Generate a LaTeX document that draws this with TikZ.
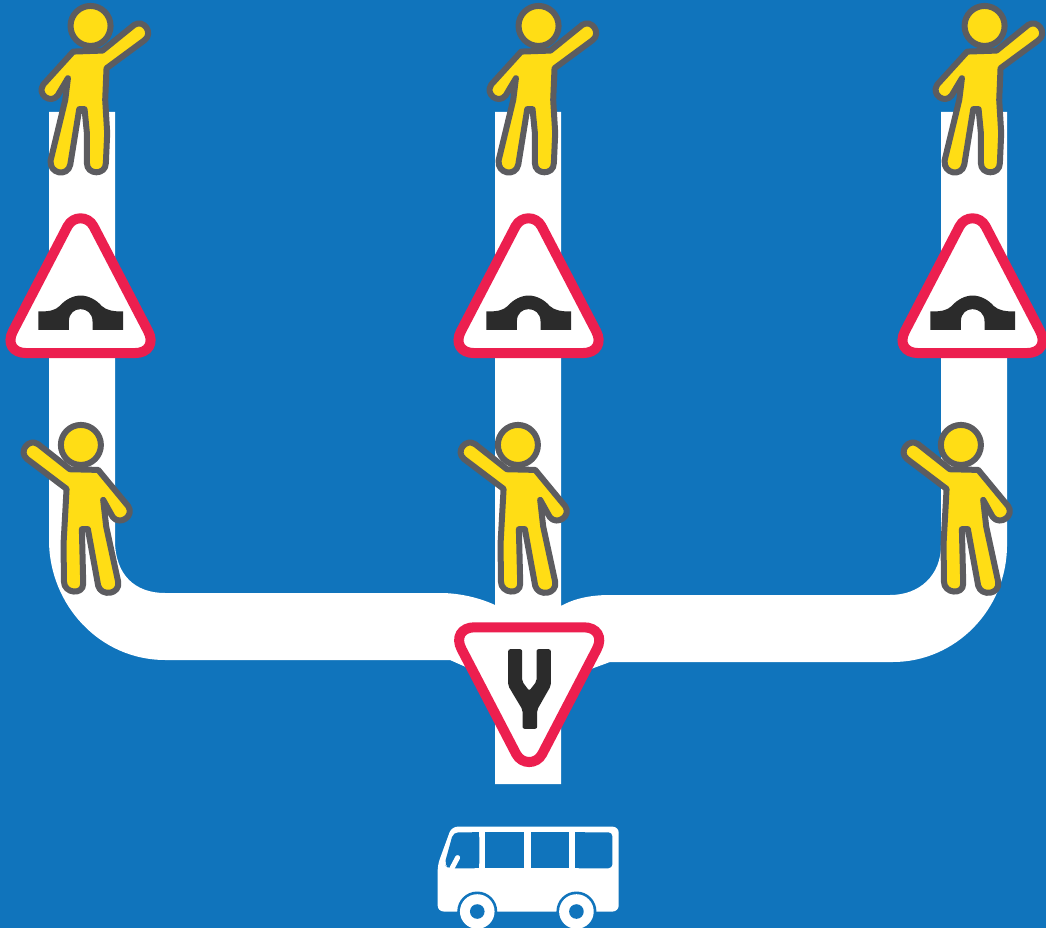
\documentclass[tikz,border=0pt]{standalone}
\usepackage{xcolor}
\definecolor{mapblue}{RGB}{16,116,188}
\definecolor{signred}{RGB}{236,31,79}
\definecolor{walkeryellow}{RGB}{255,221,21}
\definecolor{walkergray}{RGB}{92,92,96}
\definecolor{glyphdark}{RGB}{43,43,43}
\tikzset{
  walker/.style={draw=walkergray,fill=walkeryellow,line width=0.06cm,line join=round},
  signframe/.style={draw=signred,fill=white,line width=0.1cm},
  signglyph/.style={fill=glyphdark},
  buswindow/.style={fill=mapblue,rounded corners=0.02cm},
}
\begin{document}
\begin{tikzpicture}[x=0.01cm,y=-0.01cm]
  \useasboundingbox (0,0) rectangle (1046,928);
  \clip (0,0) rectangle (1046,928);
  \fill[mapblue] (0,0) rectangle (1046,928);
  % Road
  \fill[white] (49,112) -- (115,112) -- (115,540) .. controls (115,575) and (135,593) .. (165,593)
    -- (440,593) .. controls (460,593) and (480,598) .. (495,605) -- (495,112) -- (561,112) -- (561,606)
    .. controls (575,598) and (592,595) .. (610,595) -- (890,595) .. controls (920,595) and (941,575) .. (941,545)
    -- (941,112) -- (1007,112) -- (1007,545) .. controls (1007,610) and (955,662) .. (893,662)
    -- (610,662) -- (561,680) -- (561,784) -- (495,784) -- (495,680) -- (450,660) -- (165,660)
    .. controls (100,660) and (49,605) .. (49,540) -- cycle;
  % Bridge signs
  \foreach \x in {0,448,892}{
    \begin{scope}[shift={(\x,200)},x=0.00333cm,y=-0.00333cm]
      \draw[signframe] (203,79) .. controls (220,47) and (264,47) .. (281,79) -- (445,394)
        .. controls (464,430) and (446,460) .. (405,460) -- (79,460)
        .. controls (38,460) and (20,430) .. (39,394) -- cycle;
      \fill[signglyph] (115,335) .. controls (150,335) and (165,332) .. (180,318)
        .. controls (195,300) and (220,287) .. (242,287) .. controls (265,287) and (290,300) .. (305,318)
        .. controls (320,332) and (340,335) .. (370,335) -- (370,390) -- (278,390) -- (278,365)
        .. controls (278,340) and (260,328) .. (242,328) .. controls (224,328) and (207,340) .. (207,365)
        -- (207,390) -- (115,390) -- cycle;
    \end{scope}
  }
  % Fork sign
  \begin{scope}[shift={(430,580)},x=0.00333cm,y=-0.00333cm]
    \draw[signframe] (135,142) -- (461,142) .. controls (502,142) and (520,172) .. (501,208)
      -- (337,523) .. controls (320,555) and (276,555) .. (259,523) -- (95,208)
      .. controls (76,172) and (94,142) .. (135,142) -- cycle;
    \fill[signglyph,rounded corners=0.02cm] (235,208) -- (277,208) -- (277,305) -- (298,333) -- (320,305)
      -- (320,208) -- (363,208) -- (363,318) -- (322,390) -- (322,447) -- (278,447) -- (278,390)
      -- (235,318) -- cycle;
  \end{scope}
  % Walkers with arm up
  \foreach \x in {20,468,914}{
    \begin{scope}[shift={(\x,0)},x=0.00333cm,y=-0.00333cm]
      \draw[walker] (160,155) -- (248,152) -- (343,75) .. controls (372,56) and (402,100) .. (374,121)
        -- (260,205) -- (256,300) -- (262,400) -- (258,490) .. controls (258,527) and (201,527) .. (201,490)
        -- (201,400) -- (194,328) -- (178,328) -- (151,495) .. controls (143,533) and (87,522) .. (92,482)
        -- (136,300) -- (144,235) -- (113,287) .. controls (92,314) and (50,284) .. (70,254) -- cycle;
      \draw[walker] (212,78) circle[radius=0.2cm];
    \end{scope}
  }
  % Walkers with arm to the side
  \foreach \x in {10,447,890}{
    \begin{scope}[shift={(\x,410)},x=0.00333cm,y=-0.00333cm]
      \draw[walker] (180,178) -- (265,180) -- (355,289) .. controls (375,317) and (331,349) .. (309,322)
        -- (280,270) -- (289,350) -- (325,516) .. controls (332,554) and (274,562) .. (265,528)
        -- (234,358) -- (216,358) -- (220,522) .. controls (220,557) and (162,552) .. (162,515)
        -- (161,400) -- (170,237) -- (51,147) .. controls (24,125) and (56,83) .. (85,103) -- cycle;
      \draw[walker] (213,105) circle[radius=0.2cm];
    \end{scope}
  }
  % Bus
  \begin{scope}[shift={(425,815)},x=0.00333cm,y=-0.00333cm]
    \fill[white,rounded corners=0.06cm] (80,35) -- (582,35) -- (582,290) -- (38,290) -- (38,150) -- cycle;
    \fill[buswindow,rounded corners=0.05cm] (85,52) -- (163,52) -- (163,160) -- (72,160) -- (58,150) -- cycle;
    \fill[mapblue] (163,52) -- (140,52) -- (140,160) -- (163,160) -- cycle;
    \fill[mapblue] (181,52) rectangle (298,160);
    \fill[mapblue] (317,52) rectangle (433,160);
    \fill[buswindow,rounded corners=0.04cm] (451,52) -- (563,52) -- (563,160) -- (451,160) -- cycle;
    \fill[mapblue] (451,52) rectangle (480,160);
    \draw[white,line width=0.05cm,line cap=round] (82,158) -- (98,128);
    \foreach \w in {157,455}{
      \fill[mapblue] (\w,290) circle[radius=0.2cm];
      \fill[white] (\w,290) circle[radius=0.173cm];
      \fill[mapblue] (\w,290) circle[radius=0.073cm];
    }
  \end{scope}
\end{tikzpicture}
\end{document}
